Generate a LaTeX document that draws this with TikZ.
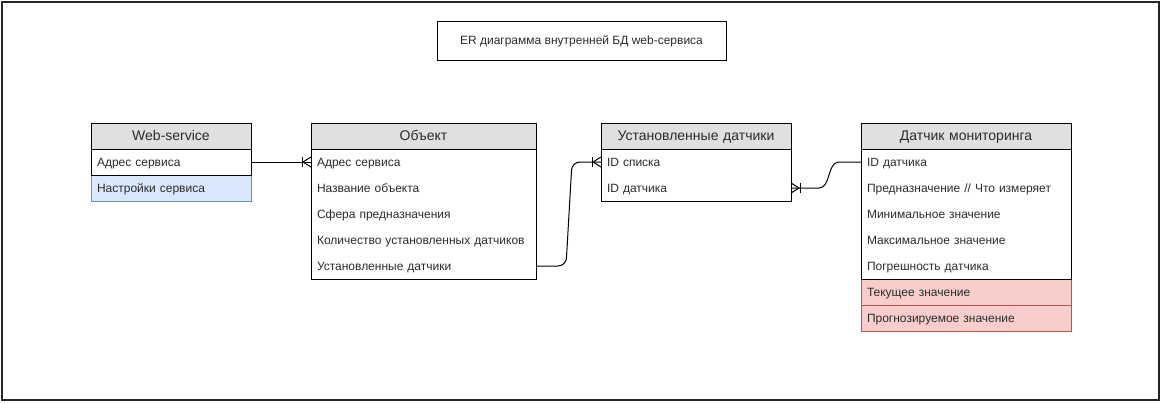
\documentclass[tikz,border=0pt]{standalone}
\usepackage{fontspec}
\setmainfont{Liberation Sans}
\usepackage{tikz}
\usetikzlibrary{positioning,calc}
\usepackage{xcolor}
\definecolor{hgray}{HTML}{E0E0E0}
\definecolor{tdark}{HTML}{2B2B2B}
\definecolor{cfill}{HTML}{DAE8FC}
\definecolor{cedge}{HTML}{6C8EBF}
\definecolor{rfill}{HTML}{F8CECC}
\definecolor{redge}{HTML}{B85450}

\begin{document}
\begin{tikzpicture}[x=0.75pt,y=-0.75pt,line width=0.75pt,text=tdark,
  ehead/.style={draw,fill=hgray,anchor=north west,outer sep=0pt,minimum height=19.5pt,inner xsep=4.5pt,inner ysep=0pt,text height=8.5pt,text depth=1.5pt,align=center,font=\fontsize{10.5}{12}\selectfont},
  erow/.style={outer sep=0pt,minimum height=19.5pt,inner xsep=4.5pt,inner ysep=0pt,text height=8pt,text depth=1pt,align=left,font=\fontsize{9}{11}\selectfont},
  crowfoot/.pic={\draw (0,-5) -- (-8,0) -- (0,5); \draw (-9,-5) -- (-9,5);}]
\useasboundingbox (0,0) rectangle (1162,403);
\draw[line width=1.5pt,black!85] (2,2) rectangle (1159,400);
% title
\node[draw,minimum width=216.75pt,minimum height=29.25pt,font=\fontsize{9}{11}\selectfont] (title) at (581.5,41.5) {ER диаграмма внутренней БД web-сервиса};
% Web-service
\node[ehead,text width=111pt] (ws-h) at (91,123) {Web-service};
\node[erow,text width=111pt,below=0pt of ws-h] (ws-1) {Адрес сервиса};
\node[erow,text width=111pt,below=0pt of ws-1,fill=cfill,draw=cedge] (ws-2) {Настройки сервиса};
\draw (ws-h.north west) rectangle (ws-1.south east);
% Объект
\node[ehead,text width=159.75pt] (ob-h) at (311,123) {Объект};
\node[erow,text width=159.75pt,below=0pt of ob-h] (ob-1) {Адрес сервиса};
\node[erow,text width=159.75pt,below=0pt of ob-1] (ob-2) {Название объекта};
\node[erow,text width=159.75pt,below=0pt of ob-2] (ob-3) {Сфера предназначения};
\node[erow,text width=159.75pt,below=0pt of ob-3] (ob-4) {Количество установленных датчиков};
\node[erow,text width=159.75pt,below=0pt of ob-4] (ob-5) {Установленные датчики};
\draw (ob-h.north west) rectangle (ob-5.south east);
% Установленные датчики
\node[ehead,text width=133.5pt] (ud-h) at (601,123) {Установленные датчики};
\node[erow,text width=133.5pt,below=0pt of ud-h] (ud-1) {ID списка};
\node[erow,text width=133.5pt,below=0pt of ud-1] (ud-2) {ID датчика};
\draw (ud-h.north west) rectangle (ud-2.south east);
% Датчик мониторинга
\node[ehead,text width=148.5pt] (dm-h) at (861,123) {Датчик мониторинга};
\node[erow,text width=148.5pt,below=0pt of dm-h] (dm-1) {ID датчика};
\node[erow,text width=148.5pt,below=0pt of dm-1] (dm-2) {Предназначение // Что измеряет};
\node[erow,text width=148.5pt,below=0pt of dm-2] (dm-3) {Минимальное значение};
\node[erow,text width=148.5pt,below=0pt of dm-3] (dm-4) {Максимальное значение};
\node[erow,text width=148.5pt,below=0pt of dm-4] (dm-5) {Погрешность датчика};
\node[erow,text width=148.5pt,below=0pt of dm-5,fill=rfill,draw=redge] (dm-6) {Текущее значение};
\node[erow,text width=148.5pt,below=0pt of dm-6,fill=rfill,draw=redge] (dm-7) {Прогнозируемое значение};
\draw (dm-h.north west) rectangle (dm-5.south east);
% links
\draw (ws-1.east) -- (ob-1.west);
\pic at (ob-1.west) {crowfoot};
\draw[rounded corners=6pt] (ob-5.east) -- ++(30,0) -- ($(ud-1.west)+(-29,0)$) -- (ud-1.west);
\pic at (ud-1.west) {crowfoot};
\draw (dm-1.west) -- ($(dm-1.west)+(-22,0)$) .. controls ($(dm-1.west)+(-34,0)$) and ($(ud-2.east)+(40,0)$) .. ($(ud-2.east)+(28,0)$) -- (ud-2.east);
\pic[xscale=-1] at (ud-2.east) {crowfoot};
\end{tikzpicture}
\end{document}
